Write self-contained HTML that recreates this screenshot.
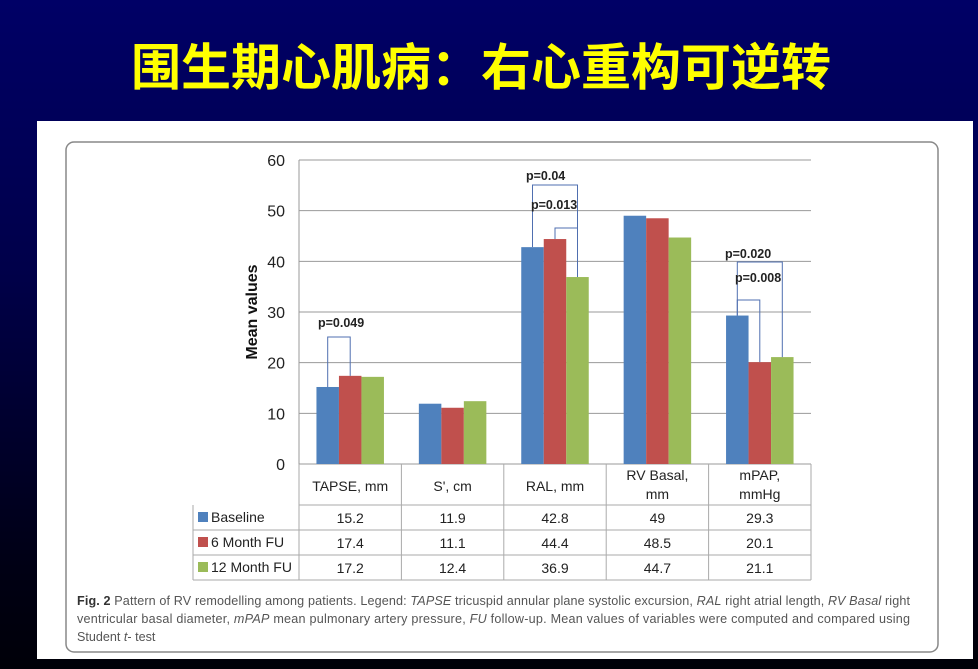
<!DOCTYPE html>
<html><head><meta charset="utf-8"><style>
html,body{margin:0;padding:0}
body{width:978px;height:669px;overflow:hidden;background:linear-gradient(#000066 0%,#00004a 40%,#000014 85%,#000008 100%);position:relative;font-family:"Liberation Sans",sans-serif}
#title{position:absolute;left:0;top:38px;width:978px;text-align:center;font:bold 50px "Liberation Sans","Noto Sans CJK SC",sans-serif;color:#ffff00;letter-spacing:0px;line-height:60px;margin-left:-8px}
#panel{position:absolute;left:37px;top:121px;width:936px;height:538px;background:#fff}
</style></head><body>
<div id="title">围生期心肌病：右心重构可逆转</div>
<div id="panel"></div>
<svg id="chart" width="978" height="669" style="position:absolute;left:0;top:0"></svg>
<script>
const categories=["TAPSE, mm","S', cm","RAL, mm","RV Basal,|mm","mPAP,|mmHg"];
const seriesNames=["Baseline","6 Month FU","12 Month FU"];
const baseline=[15.2,11.9,42.8,49,29.3];
const month6=[17.4,11.1,44.4,48.5,20.1];
const month12=[17.2,12.4,36.9,44.7,21.1];
const tableLabels=[["15.2","11.9","42.8","49","29.3"],["17.4","11.1","44.4","48.5","20.1"],["17.2","12.4","36.9","44.7","21.1"]];
const yTicks=[0,10,20,30,40,50,60];
const colors=["#4f81bd","#c0504d","#9bbb59"];
const series=[baseline,month6,month12];
const NS="http://www.w3.org/2000/svg";
const svg=document.getElementById('chart');
const x0=299,x1=811,yTop=160,yBot=464,yMax=60;
const gw=(x1-x0)/categories.length;
const y=v=>yBot-(v/yMax)*(yBot-yTop);
const bw=22.5,pad=(gw-3*bw)/2;
const bx=(g,s)=>x0+g*gw+pad+s*bw;
function el(t,a,p){const e=document.createElementNS(NS,t);for(const k in a)e.setAttribute(k,a[k]);(p||svg).appendChild(e);return e;}
const fr=el('rect',{x:66,y:142,width:872,height:510,rx:8,fill:'none',stroke:'#888','stroke-width':1.5});


yTicks.forEach(t=>{
 const l=el('line',{x1:x0,x2:x1,y1:y(t),y2:y(t),stroke:'#999','stroke-width':1});
 
 
 const tx=el('text',{x:285,y:y(t)+6,'text-anchor':'end','font-size':16,fill:'#222'});tx.textContent=t;
 
 
});
el('line',{x1:x0,x2:x0,y1:yTop,y2:yBot,stroke:'#999'});
const yt=el('text',{x:0,y:0,transform:'translate(257,312) rotate(-90)','text-anchor':'middle','font-size':16,'font-weight':'bold',fill:'#111'});yt.textContent='Mean values';


series.forEach((s,si)=>s.forEach((v,g)=>{
 const r=el('rect',{x:bx(g,si),y:y(v),width:bw,height:yBot-y(v),fill:colors[si]});
 
 
}));
function bracket(g,s1,s2,yy,label,ly,lx){
 const xa=bx(g,s1)+bw/2,xb=bx(g,s2)+bw/2;
 const p=el('polyline',{points:`${xa},${y(series[s1][g])} ${xa},${yy} ${xb},${yy} ${xb},${y(series[s2][g])}`,fill:'none',stroke:'#4f6fb0','stroke-width':1});
 
 
 const t=el('text',{x:lx,y:ly,'font-size':12.5,'font-weight':'bold',fill:'#222'});t.textContent=label;
 
 
}
bracket(0,0,1,337,'p=0.049',327,318);
bracket(2,0,2,185,'p=0.04',180,526);
bracket(2,1,2,228,'p=0.013',209,531);
bracket(4,0,2,262,'p=0.020',258,725);
bracket(4,0,1,300,'p=0.008',282,735);
const tL=193,rows=[464,505,530,555,580];
el('line',{x1:x0,x2:x1,y1:505,y2:505,stroke:'#aaa'});
for(let r=2;r<5;r++)el('line',{x1:tL,x2:x1,y1:rows[r],y2:rows[r],stroke:'#aaa'});
el('line',{x1:tL,x2:tL,y1:505,y2:580,stroke:'#aaa'});
for(let g=0;g<=categories.length;g++)el('line',{x1:x0+g*gw,x2:x0+g*gw,y1:464,y2:580,stroke:'#aaa'});
categories.forEach((c,g)=>{
 const parts=c.split('|');const cx=x0+g*gw+gw/2;
 parts.forEach((p,i)=>{const t=el('text',{x:cx,y:parts.length==1?491:480+i*19,'text-anchor':'middle','font-size':14,fill:'#222'});t.textContent=p;
 
 });
});
seriesNames.forEach((n,si)=>{
 const ry=rows[si+1];
 el('rect',{x:198,y:ry+7,width:10,height:10,fill:colors[si]});
 const t=el('text',{x:211,y:ry+17,'font-size':14,fill:'#222'});t.textContent=n;
 
 
 tableLabels[si].forEach((v,g)=>{const c=el('text',{x:x0+g*gw+gw/2,y:ry+18,'text-anchor':'middle','font-size':14,fill:'#222'});c.textContent=v;
 
 });
});
const cap=[['<tspan font-weight="bold" fill="#333">Fig. 2</tspan> Pattern of RV remodelling among patients. Legend: <tspan font-style="italic">TAPSE</tspan> tricuspid annular plane systolic excursion, <tspan font-style="italic">RAL</tspan> right atrial length, <tspan font-style="italic">RV Basal</tspan> right'],
['ventricular basal diameter, <tspan font-style="italic">mPAP</tspan> mean pulmonary artery pressure, <tspan font-style="italic">FU</tspan> follow-up. Mean values of variables were computed and compared using'],
['Student <tspan font-style="italic">t</tspan>- test']];
cap.forEach((c,i)=>{const t=el('text',{x:77,y:605+i*18,'font-size':12.6,fill:'#555',textLength:i<2?833:0});if(i==2)t.removeAttribute('textLength');t.innerHTML=c[0];
 
 });
</script>
</body></html>
